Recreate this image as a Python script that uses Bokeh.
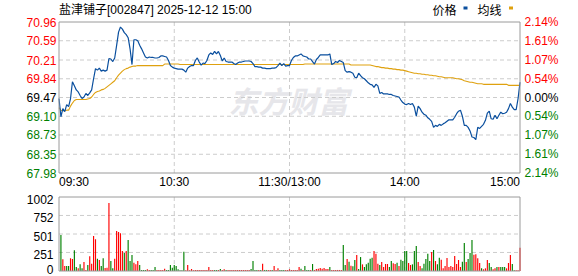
from bokeh.plotting import figure
from bokeh.models import Range1d, ColumnDataSource
from bokeh.embed import file_html
from bokeh.resources import INLINE
from bokeh.core.properties import value

# ---------------- data ----------------
title_text = "盐津铺子[002847] 2025-12-12 15:00"
prev_close = 69.47

# minute index 0..240 (09:30 .. 11:30 / 13:00 .. 15:00)
price = [
    69.45, 69.09, 69.25, 69.19, 69.33, 69.29, 69.45, 69.78, 69.70, 69.62,
    69.58, 69.51, 69.45, 69.48, 69.55, 69.51, 69.56, 69.62, 69.84, 70.04,
    70.01, 70.05, 69.99, 70.01, 69.99, 70.01, 70.24, 70.23, 70.18, 70.25,
    70.50, 70.76, 70.86, 70.82, 70.75, 70.71, 70.65, 70.43, 70.12, 70.61,
    70.61, 70.59, 70.50, 70.43, 70.35, 70.27, 70.25, 70.27, 70.26, 70.26,
    70.25, 70.25, 70.26, 70.29, 70.29, 70.28, 70.27, 70.20, 70.10, 70.07,
    70.05, 70.04, 70.03, 70.03, 70.03, 70.01, 69.97, 70.05, 70.08, 70.10,
    70.10, 70.20, 70.25, 70.17, 70.11, 70.15, 70.14, 70.20, 70.31, 70.35,
    70.32, 70.38, 70.33, 70.38, 70.30, 70.19, 70.25, 70.18, 70.17, 70.17,
    70.17, 70.14, 70.12, 70.15, 70.17, 70.17, 70.18, 70.19, 70.19, 70.19,
    70.18, 70.14, 70.08, 70.08, 70.07, 70.07, 70.05, 70.05, 70.04, 70.04,
    70.04, 70.05, 70.05, 70.06, 70.10, 70.15, 70.10, 70.14, 70.09, 70.10,
    70.10, 70.20, 70.26, 70.29, 70.29, 70.31, 70.33, 70.29, 70.28, 70.27,
    70.23, 70.23, 70.18, 70.13, 70.22, 70.26, 70.31, 70.31, 70.31, 70.31,
    70.31, 70.33, 70.12, 70.14, 70.18, 70.16, 70.20, 70.18, 70.16, 70.00,
    69.97, 69.98, 69.97, 69.95, 69.87, 69.86, 69.95, 69.90, 69.86, 69.84,
    69.80, 69.76, 69.73, 69.72, 69.67, 69.73, 69.70, 69.55, 69.57, 69.54,
    69.54, 69.54, 69.53, 69.53, 69.51, 69.50, 69.49, 69.48, 69.42, 69.37,
    69.34, 69.33, 69.35, 69.33, 69.35, 69.28, 69.10, 69.30, 69.25, 69.18,
    69.14, 69.12, 69.07, 69.04, 69.00, 68.88, 68.92, 68.90, 68.94, 68.92,
    68.95, 68.97, 69.00, 69.03, 69.03, 69.03, 69.08, 69.15, 69.20, 69.22,
    69.10, 68.92, 68.92, 68.88, 68.81, 68.69, 68.68, 68.64, 68.88, 68.86,
    68.90, 68.94, 69.02, 69.16, 69.20, 69.05, 69.04, 69.12, 69.05, 69.12,
    69.18, 69.15, 69.16, 69.18, 69.25, 69.35, 69.28, 69.23, 69.23, 69.45,
    69.77,
]

avg_price = [
    69.27, 69.22, 69.21, 69.21, 69.22, 69.22, 69.30, 69.36, 69.41, 69.43,
    69.43, 69.43, 69.43, 69.43, 69.43, 69.44, 69.45, 69.48, 69.53, 69.57,
    69.59, 69.60, 69.62, 69.63, 69.65, 69.68, 69.71, 69.74, 69.77, 69.80,
    69.86, 69.91, 69.95, 69.99, 70.02, 70.04, 70.05, 70.07, 70.08, 70.09,
    70.09, 70.10, 70.10, 70.10, 70.10, 70.10, 70.10, 70.10, 70.10, 70.10,
    70.10, 70.10, 70.10, 70.10, 70.10, 70.13, 70.13, 70.13, 70.13, 70.13,
    70.13, 70.13, 70.13, 70.12, 70.12, 70.12, 70.12, 70.12, 70.12, 70.12,
    70.12, 70.12, 70.12, 70.12, 70.12, 70.12, 70.12, 70.12, 70.12, 70.12,
    70.12, 70.12, 70.12, 70.12, 70.12, 70.12, 70.12, 70.12, 70.12, 70.12,
    70.12, 70.12, 70.12, 70.12, 70.12, 70.12, 70.12, 70.12, 70.12, 70.12,
    70.12, 70.12, 70.12, 70.12, 70.12, 70.12, 70.12, 70.12, 70.12, 70.12,
    70.12, 70.12, 70.12, 70.12, 70.12, 70.12, 70.12, 70.12, 70.12, 70.12,
    70.12, 70.12, 70.12, 70.12, 70.12, 70.12, 70.12, 70.12, 70.13, 70.13,
    70.13, 70.13, 70.13, 70.13, 70.13, 70.13, 70.13, 70.13, 70.13, 70.13,
    70.13, 70.13, 70.13, 70.13, 70.13, 70.13, 70.13, 70.13, 70.13, 70.13,
    70.13, 70.13, 70.11, 70.11, 70.11, 70.11, 70.11, 70.11, 70.11, 70.11,
    70.11, 70.11, 70.11, 70.10, 70.09, 70.08, 70.08, 70.07, 70.06, 70.06,
    70.05, 70.05, 70.04, 70.04, 70.03, 70.03, 70.02, 70.02, 70.01, 70.01,
    70.00, 69.99, 69.98, 69.97, 69.96, 69.95, 69.95, 69.94, 69.94, 69.93,
    69.93, 69.92, 69.92, 69.91, 69.91, 69.90, 69.90, 69.89, 69.88, 69.88,
    69.87, 69.86, 69.86, 69.86, 69.86, 69.86, 69.85, 69.84, 69.84, 69.83,
    69.82, 69.80, 69.79, 69.78, 69.77, 69.77, 69.76, 69.75, 69.74, 69.74,
    69.74, 69.73, 69.73, 69.73, 69.73, 69.73, 69.73, 69.73, 69.73, 69.73,
    69.73, 69.73, 69.73, 69.73, 69.71, 69.71, 69.71, 69.71, 69.71, 69.71,
    69.71,
]

# volume bars for minutes 1..240 ; direction 1 = up (red), -1 = down (green)
volume = [
    487, 158, 68, 68, 68, 171, 162, 280, 54, 36,
    90, 36, 122, 14, 81, 199, 99, 474, 429, 167,
    149, 68, 171, 41, 45, 920, 135, 36, 167, 541,
    528, 510, 271, 244, 271, 420, 135, 217, 113, 90,
    135, 81, 14, 14, 14, 23, 14, 14, 14, 54,
    14, 14, 14, 14, 32, 14, 14, 81, 45, 81,
    68, 23, 9, 9, 262, 9, 81, 9, 27, 9,
    14, 14, 14, 14, 14, 14, 14, 54, 14, 14,
    14, 14, 14, 27, 14, 23, 14, 14, 14, 14,
    14, 14, 14, 14, 14, 14, 14, 14, 14, 27,
    135, 14, 14, 14, 14, 99, 14, 14, 14, 14,
    14, 68, 14, 36, 14, 14, 14, 14, 14, 23,
    14, 14, 14, 14, 54, 32, 14, 68, 14, 14,
    14, 95, 14, 27, 32, 41, 32, 41, 27, 27,
    54, 14, 14, 14, 14, 14, 14, 352, 81, 162,
    126, 72, 63, 149, 217, 27, 189, 90, 54, 90,
    113, 167, 181, 271, 235, 99, 81, 122, 54, 95,
    95, 54, 135, 104, 95, 113, 68, 153, 135, 271,
    271, 108, 81, 90, 271, 339, 122, 68, 36, 99,
    162, 235, 135, 258, 284, 135, 90, 181, 153, 36,
    68, 176, 54, 68, 54, 203, 95, 149, 54, 126,
    379, 122, 162, 244, 420, 221, 226, 171, 108, 36,
    23, 36, 149, 108, 54, 23, 36, 54, 54, 54,
    54, 54, 36, 108, 217, 95, 9, 9, 9, 316,
]
direction = [
    -1, 1, 1, -1, -1, 1, 1, -1, -1, 1,
    -1, -1, 1, 1, -1, 1, 1, 1, 1, -1,
    1, -1, -1, 1, 1, 1, -1, -1, 1, 1,
    1, 1, 1, -1, 1, -1, -1, -1, 1, 1,
    1, -1, -1, -1, -1, 1, 1, -1, -1, -1,
    1, 1, 1, 1, 1, -1, -1, -1, -1, -1,
    -1, -1, -1, -1, -1, 1, 1, 1, 1, 1,
    1, 1, 1, 1, 1, 1, 1, 1, 1, 1,
    -1, -1, 1, -1, 1, 1, -1, 1, 1, 1,
    1, 1, 1, 1, 1, 1, 1, 1, 1, -1,
    -1, -1, -1, 1, -1, 1, -1, -1, 1, 1,
    -1, 1, 1, 1, -1, -1, -1, 1, 1, 1,
    1, 1, 1, 1, 1, -1, 1, -1, -1, -1,
    1, -1, 1, 1, 1, 1, 1, 1, 1, 1,
    -1, 1, 1, 1, 1, 1, 1, -1, -1, 1,
    -1, 1, -1, -1, 1, -1, -1, 1, -1, -1,
    -1, -1, -1, 1, 1, 1, -1, 1, 1, 1,
    1, -1, -1, 1, 1, -1, 1, -1, -1, -1,
    -1, 1, 1, -1, -1, -1, 1, 1, -1, -1,
    -1, -1, -1, 1, -1, 1, -1, -1, 1, 1,
    1, 1, 1, 1, 1, 1, 1, 1, 1, -1,
    -1, 1, -1, -1, -1, 1, 1, 1, 1, -1,
    1, 1, 1, -1, -1, 1, 1, -1, 1, -1,
    -1, -1, 1, 1, 1, -1, -1, 1, 1, 1,
]

price_ticks = [70.96, 70.59, 70.21, 69.84, 69.47, 69.10, 68.73, 68.35, 67.98]
price_tick_labels = ["70.96", "70.59", "70.21", "69.84", "69.47", "69.10", "68.73", "68.35", "67.98"]
pct_tick_labels = ["2.14%", "1.61%", "1.07%", "0.54%", "0.00%", "0.54%", "1.07%", "1.61%", "2.14%"]
vol_ticks = [1002, 752, 501, 251, 0]
vol_tick_labels = ["1002", "752", "501", "251", "0"]
time_ticks = [0, 60, 120, 180, 240]
time_labels = ["09:30", "10:30", "11:30/13:00", "14:00", "15:00"]
legend_labels = ["价格", "均线"]

# ---------------- layout (pixels of the 578x276 page) ----------------
W, H = 578, 276
PX_L, PX_R = 58.5, 519.5          # panel left / right edge
PY_T, PY_B = 21.5, 172.5          # price panel top / bottom
VY_T, VY_B = 196.5, 270.5         # volume panel top / bottom

FONT = "Liberation Sans"
CJK = "Liberation Sans, Noto Sans CJK SC"
RED = "#ff0000"
GREEN = "#008000"
BLUE = "#0a4f9e"
GOLD = "#dfa10f"
GRID = "#cccccc"
BORDER = "#9a9a9a"

X0, X1 = time_ticks[0], time_ticks[-1]
P_LO, P_HI = price_ticks[-1], price_ticks[0]
V_LO, V_HI = vol_ticks[-1], vol_ticks[0]

mx = (X1 - X0) / (PX_R - PX_L)        # minutes per pixel
py = (P_HI - P_LO) / (PY_B - PY_T)    # price per pixel
vy = (V_HI - V_LO) / (VY_B - VY_T)    # volume per pixel

x_range = Range1d(X0 - PX_L * mx, X1 + (W - PX_R) * mx)
y_range = Range1d(P_LO - (H - PY_B) * py, P_HI + PY_T * py)
v_range = Range1d(V_LO - (H - VY_B) * vy, V_HI + VY_T * vy)


def px_x(px):
    return X0 + (px - PX_L) * mx


def px_p(px):
    return P_HI - (px - PY_T) * py


def lab_color(v):
    if abs(v - prev_close) < 1e-9:
        return "#000000"
    return RED if v > prev_close else GREEN


tick_colors = [lab_color(v) for v in price_ticks]

p = figure(width=W, height=H, x_range=x_range, y_range=y_range,
           output_backend="svg", toolbar_location=None, title=None,
           x_axis_location=None, y_axis_location=None, min_border=0)
p.extra_y_ranges = {"vol": v_range}
p.outline_line_color = None
p.xgrid.visible = False
p.ygrid.visible = False
p.background_fill_color = "white"
p.border_fill_color = "white"

# watermark
p.text(x=[px_x(228)], y=[px_p(99)], text=["东方财富"], text_font=value("Noto Sans CJK SC"),
       text_font_style="bold italic", text_font_size="30px", text_color="#e6e6ea",
       text_baseline="middle", text_align="left")

# grid lines (dashed)
inner_t = time_ticks[1:-1]
p.segment(x0=inner_t, x1=inner_t, y0=[P_LO] * 3, y1=[P_HI] * 3,
          line_color=GRID, line_dash="4 3", line_width=1)
p.segment(x0=[X0] * 7, x1=[X1] * 7, y0=price_ticks[1:-1], y1=price_ticks[1:-1],
          line_color=GRID, line_dash="4 3", line_width=1)
p.segment(x0=inner_t, x1=inner_t, y0=[V_LO] * 3, y1=[V_HI] * 3,
          line_color=GRID, line_dash="4 3", line_width=1, y_range_name="vol")
p.segment(x0=[X0] * 3, x1=[X1] * 3, y0=vol_ticks[1:-1], y1=vol_ticks[1:-1],
          line_color=GRID, line_dash="4 3", line_width=1, y_range_name="vol")

# volume bars
vsrc = ColumnDataSource(dict(m=list(range(1, len(volume) + 1)), vol=volume,
                             c=[RED if d > 0 else GREEN for d in direction]))
p.vbar(x="m", top="vol", bottom=V_LO, width=0.6, source=vsrc, fill_color="c",
       line_color=None, y_range_name="vol")

# price and average lines
minutes = list(range(len(price)))
p.line(minutes, avg_price, line_color=GOLD, line_width=1.1)
p.line(minutes, price, line_color=BLUE, line_width=1.2)

# panel borders
p.quad(left=[X0], right=[X1], bottom=[P_LO], top=[P_HI], fill_color=None,
       line_color=BORDER, line_width=1)
p.quad(left=[X0], right=[X1], bottom=[V_LO], top=[V_HI], fill_color=None,
       line_color=BORDER, line_width=1, y_range_name="vol")

# price tick labels (left) and percentage labels (right)
tsrc = ColumnDataSource(dict(xl=[px_x(56)] * 9, xr=[px_x(524)] * 9, y=price_ticks,
                             tl=price_tick_labels, tr=pct_tick_labels, c=tick_colors))
p.text(x="xl", y="y", text="tl", source=tsrc, text_align="right", text_baseline="middle",
       text_color="c", text_font=value(FONT), text_font_size="12px")
p.text(x="xr", y="y", text="tr", source=tsrc, text_align="left", text_baseline="middle",
       text_color="c", text_font=value(FONT), text_font_size="12px")

# volume tick labels: drawn ~2 px below their grid line, kept inside the page
v_lab_y = [max(t - 2 * vy, V_LO + 1.5 * vy) for t in vol_ticks]
p.text(x=[px_x(53)] * 5, y=v_lab_y, text=vol_tick_labels, text_align="right",
       text_baseline="middle", text_color="#000000", text_font=value(FONT),
       text_font_size="12px", y_range_name="vol")

# time labels
ty = px_p(181.5)
aligns = ["left", "center", "center", "center", "right"]
for t, s, a in zip(time_ticks, time_labels, aligns):
    p.text(x=[t], y=[ty], text=[s], text_align=a, text_baseline="middle",
           text_color="#000000", text_font=value(FONT), text_font_size="12px")

# title
p.text(x=[X0], y=[px_p(9)], text=[title_text], text_align="left", text_baseline="middle",
       text_color="#000000", text_font=value(CJK), text_font_size="12px")

# legend: label followed by a small colour mark
p.text(x=[px_x(432), px_x(477)], y=[px_p(10)] * 2, text=legend_labels, text_align="left",
       text_baseline="middle", text_color="#000000", text_font=value(CJK),
       text_font_size="12px")
p.rect(x=[px_x(465), px_x(510.5)], y=[px_p(7.5)] * 2, width=4, height=3,
       width_units="screen", height_units="screen", fill_color=[BLUE, GOLD], line_color=None)

open("out.html", "w").write(file_html(p, INLINE))
